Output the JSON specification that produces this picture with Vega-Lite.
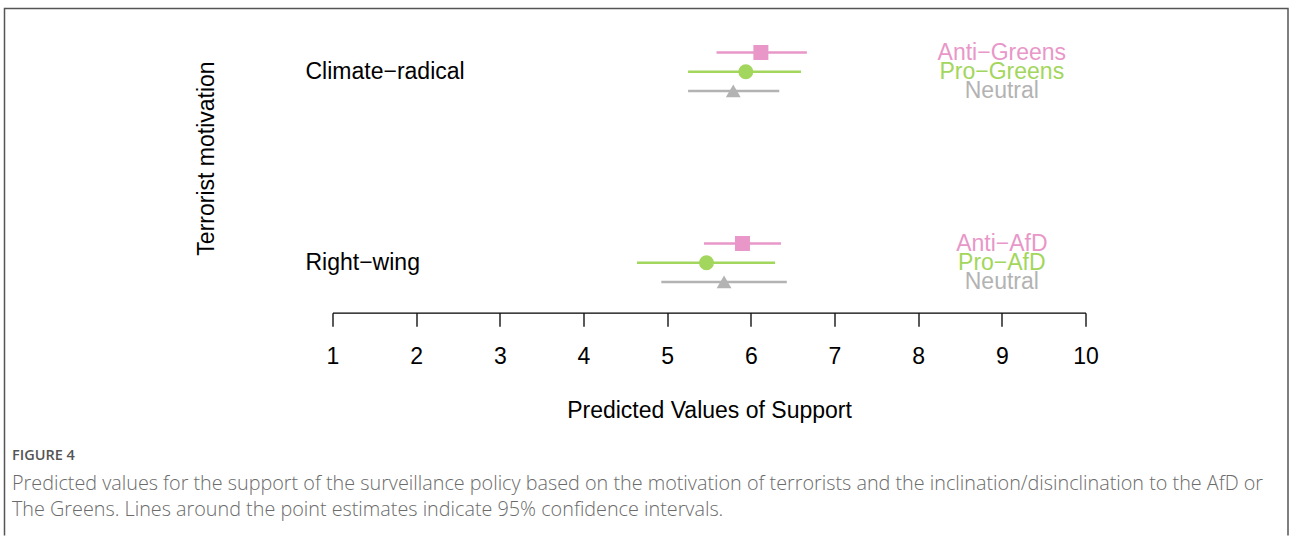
{
  "$schema": "https://vega.github.io/schema/vega-lite/v6.json",
  "width": 1283.5,
  "height": 527,
  "autosize": {"type": "none"},
  "padding": {"left": 4.5, "top": 8.5, "right": 2, "bottom": 2.5},
  "background": "white",
  "config": {
    "font": "Liberation Sans",
    "view": {"stroke": "#555555", "strokeWidth": 1.5, "strokeDash": [1810.5, 1283.5, 600]}
  },
  "title": {
    "text": "FIGURE 4",
    "subtitle": [
      "Predicted values for the support of the surveillance policy based on the motivation of terrorists and the inclination/disinclination to the AfD or",
      "The Greens. Lines around the point estimates indicate 95% confidence intervals."
    ],
    "orient": "bottom",
    "anchor": "start",
    "frame": "group",
    "offset": -87,
    "dx": 7.5,
    "font": "Open Sans",
    "fontSize": 14.5,
    "fontWeight": 600,
    "color": "#555555",
    "subtitleFont": "Open Sans",
    "subtitleFontSize": 19.8,
    "subtitleFontWeight": 300,
    "subtitleColor": "#6b6b6b",
    "subtitleLineHeight": 26,
    "subtitlePadding": 10.5
  },
  "data": {
    "values": [
      {"motivation": "Climate−radical", "group": "Anti", "label": "Anti−Greens", "est": 6.12, "lo": 5.59, "hi": 6.67},
      {"motivation": "Climate−radical", "group": "Pro", "label": "Pro−Greens", "est": 5.94, "lo": 5.25, "hi": 6.60},
      {"motivation": "Climate−radical", "group": "Neutral", "label": "Neutral", "est": 5.79, "lo": 5.25, "hi": 6.34},
      {"motivation": "Right−wing", "group": "Anti", "label": "Anti−AfD", "est": 5.90, "lo": 5.44, "hi": 6.36},
      {"motivation": "Right−wing", "group": "Pro", "label": "Pro−AfD", "est": 5.47, "lo": 4.64, "hi": 6.29},
      {"motivation": "Right−wing", "group": "Neutral", "label": "Neutral", "est": 5.68, "lo": 4.93, "hi": 6.43}
    ]
  },
  "encoding": {
    "y": {
      "field": "motivation",
      "type": "nominal",
      "scale": {"type": "band", "domain": ["Climate−radical", "Right−wing"], "range": [-32.3, 349.7], "paddingInner": 0, "paddingOuter": 0},
      "axis": {
        "orient": "left",
        "offset": -300.5,
        "domain": false,
        "ticks": false,
        "tickSize": 0,
        "grid": false,
        "labelAlign": "left",
        "labelBaseline": "middle",
        "labelPadding": 0,
        "labelFont": "Liberation Sans",
        "labelFontSize": 23,
        "labelColor": "black",
        "title": "Terrorist motivation",
        "titleFont": "Liberation Sans",
        "titleFontSize": 23,
        "titleFontWeight": "normal",
        "titleColor": "black",
        "titleAngle": -90,
        "titleAlign": "center",
        "titleBaseline": "alphabetic",
        "titleX": -92,
        "titleY": 149.5
      }
    },
    "yOffset": {
      "field": "group",
      "type": "nominal",
      "scale": {"type": "band", "domain": ["Anti", "Pro", "Neutral"], "range": [66.7, 124.3], "paddingInner": 0, "paddingOuter": 0}
    },
    "color": {
      "field": "group",
      "type": "nominal",
      "scale": {"domain": ["Anti", "Pro", "Neutral"], "range": ["#E897C8", "#A2D65C", "#B3B3B3"]},
      "legend": null
    }
  },
  "layer": [
    {
      "mark": {"type": "rule", "strokeWidth": 2.5},
      "encoding": {
        "x": {
          "field": "lo",
          "type": "quantitative",
          "scale": {"domain": [1, 10], "range": [328, 1081], "nice": false, "zero": false},
          "axis": {
            "values": [1, 2, 3, 4, 5, 6, 7, 8, 9, 10],
            "format": "d",
            "offset": -222.8,
            "grid": false,
            "labelFlush": false,
            "labelOverlap": false,
            "domainColor": "black",
            "domainWidth": 1.3,
            "tickColor": "black",
            "tickWidth": 1.3,
            "tickSize": 13.5,
            "labelPadding": 19,
            "labelFont": "Liberation Sans",
            "labelFontSize": 23,
            "labelColor": "black",
            "title": "Predicted Values of Support",
            "titleFont": "Liberation Sans",
            "titleFontSize": 23,
            "titleFontWeight": "normal",
            "titleColor": "black",
            "titlePadding": 31
          }
        },
        "x2": {"field": "hi"}
      }
    },
    {
      "mark": {"type": "point", "filled": true, "opacity": 1},
      "encoding": {
        "x": {"field": "est", "type": "quantitative"},
        "shape": {
          "field": "group",
          "type": "nominal",
          "scale": {"domain": ["Anti", "Pro", "Neutral"], "range": ["square", "circle", "triangle-up"]},
          "legend": null
        },
        "size": {
          "field": "group",
          "type": "nominal",
          "scale": {"domain": ["Anti", "Pro", "Neutral"], "range": [225, 220, 430]},
          "legend": null
        }
      }
    },
    {
      "mark": {"type": "text", "font": "Liberation Sans", "fontSize": 23, "align": "center", "baseline": "middle"},
      "encoding": {
        "x": {"datum": 9},
        "text": {"field": "label", "type": "nominal"}
      }
    }
  ]
}
